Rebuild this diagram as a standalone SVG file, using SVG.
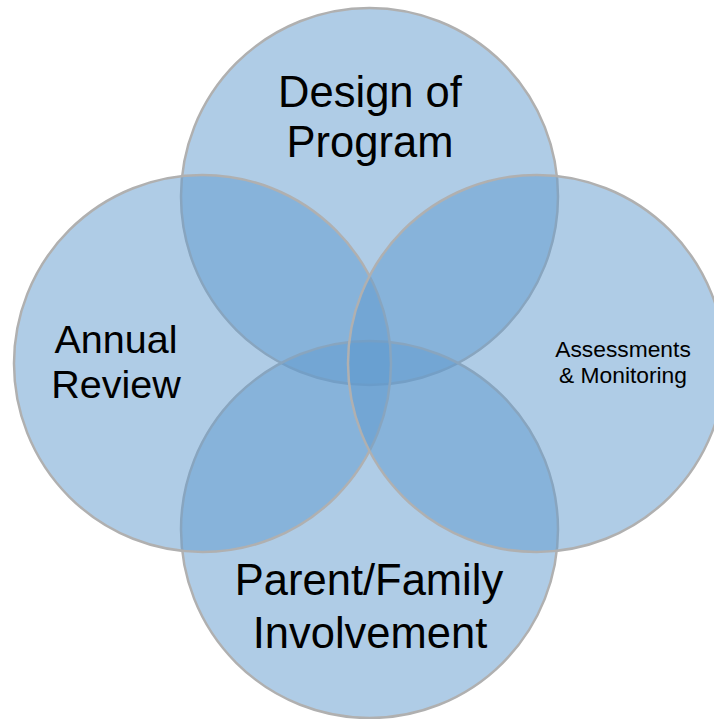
<svg xmlns="http://www.w3.org/2000/svg" width="714" height="719" viewBox="0 0 714 719">
<style>
.c{fill:#5f99cd;fill-opacity:0.5;stroke:#b0b0b0;stroke-width:2.5}
.t{font-family:"Liberation Sans",Arial,sans-serif;fill:#000;text-anchor:middle}
</style>
<rect width="714" height="719" fill="#fff"/>
<g id="design">
<circle class="c" cx="369.5" cy="196.5" r="188.5"/>
<text class="t" font-size="43.5" x="370" y="107">Design of</text>
<text class="t" font-size="43.5" x="370" y="157">Program</text>
</g>
<g id="parent">
<circle class="c" cx="369.5" cy="529.5" r="188.5"/>
<text class="t" font-size="43.5" x="369" y="595">Parent/Family</text>
<text class="t" font-size="43.5" x="370" y="648">Involvement</text>
</g>
<g id="annual">
<circle class="c" cx="202.5" cy="363.5" r="188.5"/>
<text class="t" font-size="39.5" x="116" y="353">Annual</text>
<text class="t" font-size="39.5" x="116" y="398">Review</text>
</g>
<g id="assess">
<circle class="c" cx="536.5" cy="363.5" r="188.5"/>
<text class="t" font-size="22.8" x="623" y="357">Assessments</text>
<text class="t" font-size="22.8" x="623" y="383">&amp; Monitoring</text>
</g>
<g id="connectors"/>
</svg>
